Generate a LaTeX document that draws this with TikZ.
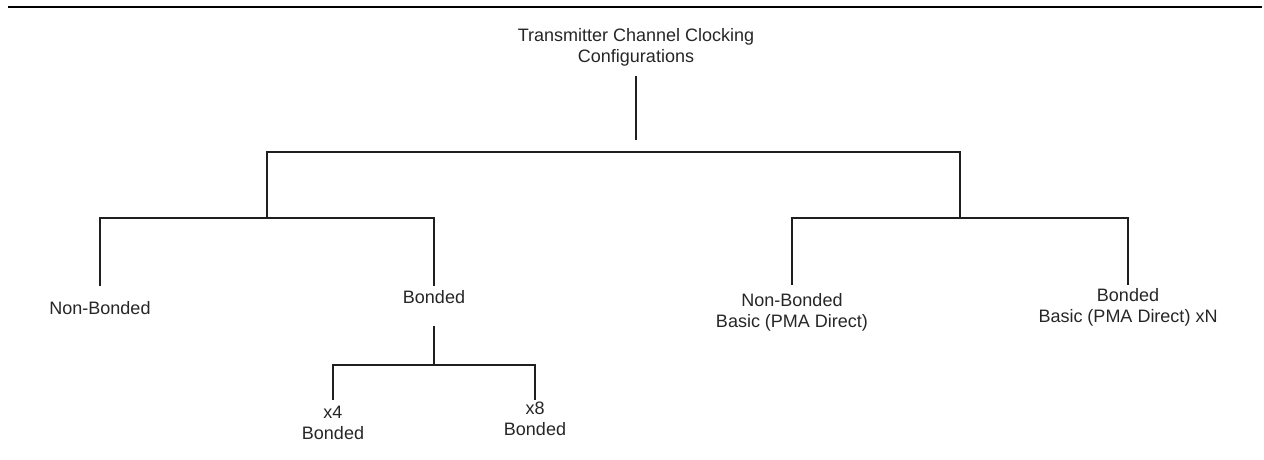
\documentclass[tikz,border=0pt]{standalone}
\usepackage{fontspec}
\setmainfont{Liberation Sans}
\begin{document}
\begin{tikzpicture}[x=1pt,y=-1pt,
  lbl/.style={font=\fontsize{18}{21}\selectfont, align=center, inner sep=0pt, anchor=north, text=black!85},
  wire/.style={line width=1.1pt, draw=black!88},
  rule/.style={line width=2.4pt, draw=black}]
\useasboundingbox (0,0) rectangle (1264,460);
% top rule
\coordinate (rl) at (8,7);
\coordinate (rr) at (1262,7);
\draw[rule] (rl) -- (rr);
% labels
\node[lbl] (root) at (636,28.5) {Transmitter Channel Clocking\\Configurations};
\node[lbl] (nb)   at (100,301) {Non-Bonded};
\node[lbl] (bd)   at (434,290.5) {Bonded};
\node[lbl] (x4)   at (333,405.5) {x4\\Bonded};
\node[lbl] (x8)   at (535,401.5) {x8\\Bonded};
\node[lbl] (pnb)  at (792,293.5) {Non-Bonded\\Basic (PMA Direct)};
\node[lbl] (pbd)  at (1128,288.5) {Bonded\\Basic (PMA Direct) xN};
% junctions
\coordinate (r0) at (636,76);
\coordinate (r1) at (636,140);
\coordinate (hA) at (267,152);
\coordinate (hB) at (960,152);
\coordinate (lA) at (267,218);
\coordinate (lL) at (100,218);
\coordinate (lR) at (434,218);
\coordinate (nbT) at (100,286);
\coordinate (bdT) at (434,286);
\coordinate (bdB) at (434,326);
\coordinate (bJ) at (434,365);
\coordinate (bL) at (333,365);
\coordinate (bR) at (535,365);
\coordinate (x4T) at (333,400);
\coordinate (x8T) at (535,400);
\coordinate (rA) at (960,218);
\coordinate (rL) at (792,218);
\coordinate (rR) at (1128,218);
\coordinate (pnbT) at (792,285);
\coordinate (pbdT) at (1128,285);
% connectors
\draw[wire] (r0) -- (r1);
\draw[wire] (lA) -- (hA) -- (hB) -- (rA);
\draw[wire] (nbT) -- (lL) -- (lR) -- (bdT);
\draw[wire] (lA) -- (lL);
\draw[wire] (bdB) -- (bJ);
\draw[wire] (x4T) -- (bL) -- (bR) -- (x8T);
\draw[wire] (pnbT) -- (rL) -- (rR) -- (pbdT);
\end{tikzpicture}
\end{document}
